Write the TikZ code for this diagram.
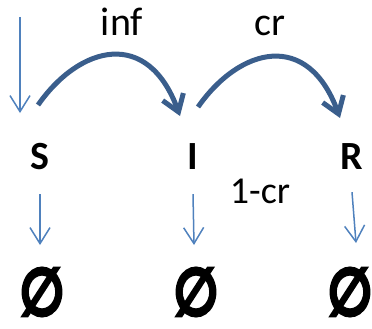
\documentclass[tikz,border=0pt]{standalone}
\usepackage{fontspec}
\setmainfont{Carlito}
\newfontfamily\symfont{DejaVu Sans}
\usetikzlibrary{arrows.meta}
\definecolor{darkarrow}{RGB}{58,94,140}
\definecolor{lightarrow}{RGB}{79,129,189}
\newcommand{\heavyempty}{\special{pdf:literal direct 2 Tr 5 w 0 J 0 j}∅\special{pdf:literal direct 0 Tr 1 w}}
\begin{document}
\begin{tikzpicture}[x=1pt,y=-1pt,
  lbl/.style={inner sep=0pt, font=\fontsize{40}{44}\selectfont, anchor=base},
  stlbl/.style={inner sep=0pt, font=\fontsize{40}{44}\selectfont\bfseries},
  empty/.style={inner sep=0pt, font=\fontsize{64}{68}\selectfont\symfont},
  thin/.style={draw=lightarrow, line width=1.5pt, -{Straight Barb[length=16pt,width=20pt]}},
  thick/.style={draw=darkarrow, line width=5pt, -{Straight Barb[length=16pt,width=22pt]}}]
\path[use as bounding box] (0,0) rectangle (372,329);
% compartments
\node[stlbl] (S) at (40,157) {S};
\node[stlbl] (I) at (193,157) {I};
\node[stlbl] (R) at (352,157) {R};
% empty sets
\node[empty] (eS) at (42,292) {\scalebox{0.8}[1]{\heavyempty}};
\node[empty] (eI) at (196,292) {\scalebox{0.8}[1]{\heavyempty}};
\node[empty] (eR) at (350,292) {\scalebox{0.8}[1]{\heavyempty}};
% labels
\node[lbl] (inf) at (122,36) {inf};
\node[lbl] (cr) at (270,36) {cr};
\node[lbl, font=\fontsize{38}{42}\selectfont] (ncr) at (260,203) {1-cr};
% inflow
\coordinate (in0) at (20,17);
\coordinate (in1) at (20,113);
\draw[thin] (in0) -- (in1);
% transitions
\draw[thick] (38,105) .. controls (80,45) and (148,28) .. (180,116);
\draw[thick] (198,107) .. controls (240,47) and (308,30) .. (340,118);
% deaths
\draw[thin] (S.south) ++(0,24) coordinate (dS0) (dS0) -- (40,245);
\draw[thin] (I.south) ++(0,24) coordinate (dI0) (dI0) -- (194,245);
\draw[thin] (R.south) ++(0,22) coordinate (dR0) (dR0) -- (356,243);
\end{tikzpicture}
\end{document}
